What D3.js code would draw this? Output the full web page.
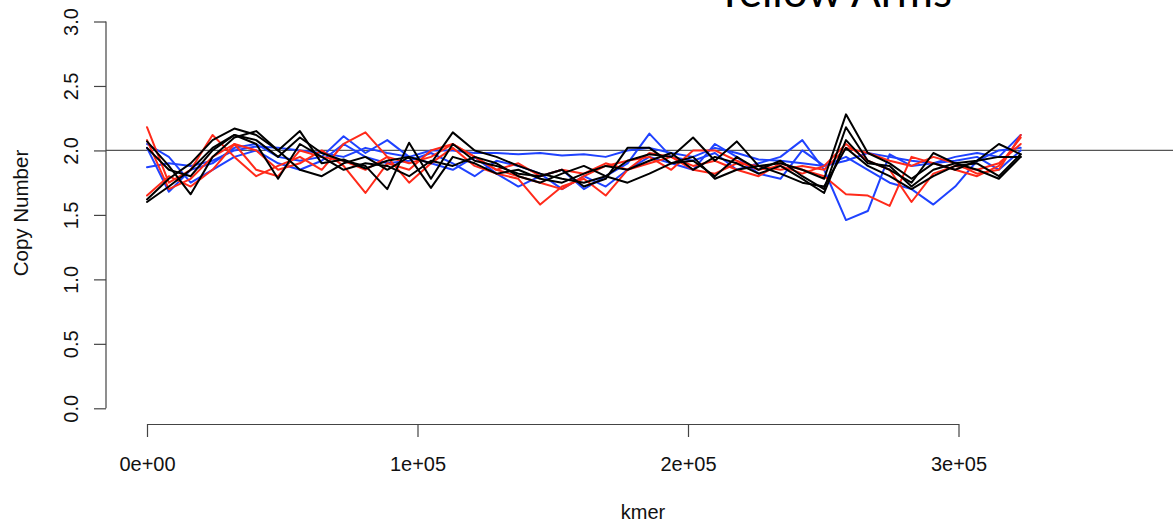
<!DOCTYPE html>
<html><head><meta charset="utf-8">
<script src="https://cdn.jsdelivr.net/npm/d3@7"></script>
<style>body{margin:0;background:#fff}svg{display:block}</style>
</head><body><svg id="c" width="1173" height="523"></svg>
<script>
const kmer=[0,8075,16150,24225,32300,40375,48450,56525,64600,72675,80750,88825,96900,104975,113050,121125,129200,137275,145350,153425,161500,169575,177650,185725,193800,201875,209950,218025,226100,234175,242250,250325,258400,266475,274550,282625,290700,298775,306850,314925,323000];

const blue1=[2.02,1.68,1.85,1.90,2.02,2.05,1.95,1.92,1.95,2.11,1.98,2.08,1.95,1.90,1.85,1.95,1.82,1.72,1.80,1.85,1.70,1.80,1.90,2.13,1.95,1.92,1.98,1.85,1.90,1.95,2.08,1.85,1.46,1.53,1.97,1.88,1.90,1.92,1.95,1.85,2.00];
const blue2=[1.87,1.90,1.88,1.92,2.00,2.03,2.02,2.00,1.98,1.95,2.02,1.98,1.95,2.00,2.00,1.98,1.98,1.97,1.98,1.96,1.97,1.95,2.00,2.02,1.98,1.95,2.02,1.98,1.93,1.92,1.90,1.88,1.92,1.98,1.95,1.92,1.90,1.95,1.98,1.95,2.12];
const blue3=[2.05,1.95,1.75,1.85,1.95,2.00,1.90,1.85,1.92,2.05,1.95,1.90,1.92,1.98,1.90,1.80,1.92,1.88,1.82,1.70,1.80,1.72,1.85,1.95,1.90,1.85,2.05,1.95,1.82,1.78,2.00,1.88,1.95,1.85,1.75,1.70,1.58,1.72,1.92,2.00,2.02];

const red1=[2.18,1.75,1.85,2.12,1.95,1.80,1.88,1.95,1.85,2.05,2.14,1.95,1.75,1.90,2.02,1.88,1.82,1.78,1.58,1.72,1.78,1.65,1.85,1.90,1.95,1.88,1.92,1.85,1.80,1.90,1.85,1.80,1.66,1.65,1.57,1.95,1.90,1.85,1.80,1.88,2.10];
const red2=[1.65,1.80,1.72,1.85,2.05,2.00,1.85,1.90,2.00,1.88,1.67,1.90,1.85,2.00,2.05,1.95,1.85,1.80,1.75,1.70,1.80,1.88,1.92,1.95,1.85,2.00,2.00,1.92,1.85,1.88,1.82,1.88,2.05,1.92,1.85,1.60,1.82,1.88,1.85,1.90,2.05];
const red3=[2.08,1.70,1.78,1.95,2.05,1.85,1.80,2.00,1.95,1.92,1.85,1.95,1.90,1.95,2.05,1.95,1.85,1.90,1.80,1.85,1.82,1.90,1.85,1.98,1.95,1.85,1.82,1.90,1.88,1.85,1.88,1.85,2.02,1.98,1.92,1.88,1.95,1.90,1.82,1.85,2.12];

const black1=[1.62,1.78,1.90,2.08,2.17,2.12,2.00,2.15,1.90,1.93,1.86,1.92,1.95,1.90,2.14,2.00,1.95,1.88,1.82,1.78,1.75,1.80,1.92,1.97,1.95,2.10,1.92,2.07,1.88,1.90,1.85,1.78,2.28,1.98,1.90,1.78,1.90,1.85,1.92,2.05,1.97];
const black2=[1.60,1.72,1.85,2.02,2.12,2.08,1.95,2.10,1.98,1.92,1.88,1.70,2.06,1.78,2.05,1.92,1.88,1.82,1.80,1.85,1.72,1.78,2.02,2.02,1.90,1.92,1.80,1.95,1.85,1.92,1.80,1.70,2.18,1.92,1.85,1.75,1.98,1.90,1.92,1.95,1.95];
const black3=[2.07,1.88,1.66,1.95,2.10,2.15,2.00,1.85,1.80,1.90,1.95,1.85,1.95,1.71,1.95,1.90,1.82,1.85,1.78,1.75,1.82,1.88,1.85,1.92,1.98,1.85,1.95,1.90,1.82,1.88,1.78,1.67,2.08,1.90,1.88,1.72,1.85,1.90,1.85,1.78,1.95];
const black4=[2.02,1.85,1.80,2.00,2.12,2.05,1.78,2.05,1.95,1.85,1.90,1.88,1.80,1.92,1.88,1.95,1.90,1.80,1.75,1.82,1.88,1.80,1.75,1.82,1.90,1.95,1.78,1.85,1.88,1.82,1.75,1.72,2.02,1.88,1.80,1.70,1.80,1.88,1.90,1.80,1.97];

const xTicks=[0,100000,200000,300000];
const xTickLabels=["0e+00","1e+05","2e+05","3e+05"];
const yTicks=[0,0.5,1,1.5,2,2.5,3];
const yTickLabels=["0.0","0.5","1.0","1.5","2.0","2.5","3.0"];
const refLine=2;
const titleText="Yellow Arms";
const xLabelText="kmer";
const yLabelText="Copy Number";

const series=[
  {v:blue1,c:"#1f42ff"},{v:blue2,c:"#1f42ff"},{v:blue3,c:"#1f42ff"},
  {v:red1,c:"#ff2a1a"},{v:red2,c:"#ff2a1a"},{v:red3,c:"#ff2a1a"},
  {v:black1,c:"#000"},{v:black2,c:"#000"},{v:black3,c:"#000"},{v:black4,c:"#000"}
];

const svg=d3.select("#c");
const x=d3.scaleLinear().domain([0,300000]).range([147,958.5]);
const y=d3.scaleLinear().domain([0,3]).range([408.3,21.5]);
const font="'Liberation Sans', Arial, Helvetica, sans-serif";

// reference line
svg.append("line").attr("x1",106).attr("x2",1173)
  .attr("y1",y(refLine)).attr("y2",y(refLine))
  .attr("stroke","#555").attr("stroke-width",1.2);

// series
const line=d3.line().x((d,i)=>x(kmer[i])).y(d=>y(d));
svg.append("g").selectAll("path").data(series).join("path")
  .attr("d",d=>line(d.v)).attr("fill","none")
  .attr("stroke",d=>d.c).attr("stroke-width",2)
  .attr("stroke-linejoin","round").attr("stroke-linecap","round");

// x axis
const gx=svg.append("g").attr("transform","translate(0,424)")
  .call(d3.axisBottom(x).tickValues(xTicks).tickSize(13).tickSizeOuter(0)
    .tickFormat((d,i)=>xTickLabels[i]));
gx.selectAll("path,line").attr("stroke","#444").attr("stroke-width",1.2);
gx.selectAll("text").attr("font-family",font).attr("font-size",20)
  .attr("fill","#111").attr("y",47).attr("dy",0);

// y axis
const gy=svg.append("g").attr("transform","translate(106,0)")
  .call(d3.axisLeft(y).tickValues(yTicks).tickSize(12).tickSizeOuter(0)
    .tickFormat((d,i)=>yTickLabels[i]));
gy.selectAll("path,line").attr("stroke","#444").attr("stroke-width",1.2);
gy.selectAll("text").attr("font-family",font).attr("font-size",20)
  .attr("fill","#111").attr("transform","rotate(-90)")
  .attr("x",0).attr("y",-28).attr("dy",0).attr("text-anchor","middle");
gy.selectAll(".domain").remove();
gy.append("line").attr("x1",0).attr("x2",0).attr("y1",y(0)).attr("y2",y(3))
  .attr("stroke","#444").attr("stroke-width",1.2);

// labels
svg.append("text").attr("x",643).attr("y",519).attr("text-anchor","middle")
  .attr("font-family",font).attr("font-size",20).attr("fill","#111").text(xLabelText);
svg.append("text").attr("transform","translate(28,213) rotate(-90)")
  .attr("text-anchor","middle").attr("font-family",font).attr("font-size",20.5)
  .attr("fill","#111").text(yLabelText);

// title (cropped at top)
svg.append("text").attr("x",834).attr("y",7).attr("text-anchor","middle")
  .attr("font-family","Lato, 'Open Sans', sans-serif").attr("font-size",44)
  .attr("textLength",236).attr("lengthAdjust","spacingAndGlyphs")
  .attr("fill","#000").text(titleText);
</script></body></html>
